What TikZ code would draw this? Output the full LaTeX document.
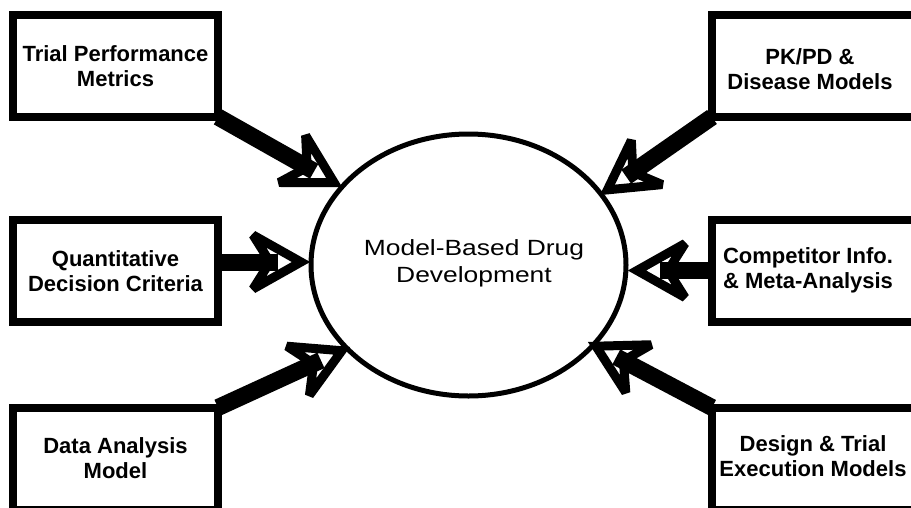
\documentclass[tikz,border=0pt]{standalone}
\usepackage{fontspec}
\usepackage{graphicx}
\setmainfont{Liberation Sans}
\usetikzlibrary{calc,shapes.geometric}
\pgfdeclarelayer{bg}
\pgfdeclarelayer{mid}
\pgfsetlayers{bg,mid,main}
\tikzset{
  boxline/.style={draw, line width=8pt, fill=white},
  boxtext/.style={align=center, inner sep=0pt, font=\bfseries\fontsize{22}{25}\selectfont},
  box/.style={boxline, boxtext, minimum width=205pt, minimum height=102pt, outer sep=0pt},
  rframe/.style={minimum width=218pt, minimum height=102pt, inner sep=0pt, outer sep=0pt},
  shaftst/.style={line width=17pt, line cap=butt},
  headst/.style={line width=9pt, line join=miter, miter limit=3},
  hubst/.style={ellipse, draw, line width=5pt, minimum width=315pt, minimum height=262pt, inner sep=0pt},
}
\newcommand\fatarrow[2]{%
  \draw[shaftst] (#1) -- ($(#2)!32pt!(#1)$);
  \pgfmathanglebetweenpoints{\pgfpointanchor{#1}{center}}{\pgfpointanchor{#2}{center}}%
  \edef\arang{\pgfmathresult}%
  \begin{scope}[shift={(#2)}, rotate=\arang]
    \draw[headst] (-9,0) -- (-57,27) -- (-40,0) -- (-57,-27) -- cycle;
  \end{scope}}
\begin{document}
\begin{tikzpicture}[x=1pt,y=-1pt]
\clip (0,0) rectangle (911,507);
\useasboundingbox (0,0) rectangle (911,507);
\begin{pgfonlayer}{bg}
\fill[white] (0,0) rectangle (911,507);
\end{pgfonlayer}
\node[hubst] (hub) at (468.5,265) {};
\node[font=\fontsize{22}{27}\selectfont, align=center, inner sep=0pt] (hubtext) at (474,263.5)
  {\scalebox{1.2}[1]{Model-Based Drug}\\\scalebox{1.2}[1]{Development}};

\node[box] (tl) at (115.5,66) {Trial Performance\\Metrics};
\node[box] (ml) at (115.5,271) {Quantitative\\Decision Criteria};
\node[box] (bl) at (115.5,458.5) {Data Analysis\\Model};

\node[rframe] (tr) at (821,66) {};
\node[rframe] (mr) at (821,270.5) {};
\node[rframe] (br) at (821,458.5) {};
\node[boxtext] (trtext) at (810,69.5) {PK/PD \&\\Disease Models};
\node[boxtext] (mrtext) at (808,270) {Competitor Info.\\\& Meta-Analysis};
\node[boxtext] (brtext) at (813,456) {Design \& Trial\\Execution Models};

\begin{pgfonlayer}{mid}
\draw[boxline] (tr.north west) rectangle (tr.south east);
\draw[boxline] (mr.north west) rectangle (mr.south east);
\draw[boxline] (br.north west) rectangle (br.south east);
\end{pgfonlayer}

\coordinate (s1) at (tl.south east);
\coordinate (s2) at (tr.south west);
\coordinate (s3) at ([yshift=9pt]ml.east);
\coordinate (s4) at (mr.west);
\coordinate (s5) at (bl.north east);
\coordinate (s6) at (br.north west);
\coordinate (t1) at (342,187);
\coordinate (t2) at (600,195);
\coordinate (t3) at (310,262);
\coordinate (t4) at (628,270.5);
\coordinate (t5) at (350,347);
\coordinate (t6) at (588,342);

\begin{pgfonlayer}{bg}
\fatarrow{s1}{t1}
\fatarrow{s2}{t2}
\fatarrow{s3}{t3}
\fatarrow{s4}{t4}
\fatarrow{s5}{t5}
\fatarrow{s6}{t6}
\end{pgfonlayer}
\end{tikzpicture}
\end{document}
